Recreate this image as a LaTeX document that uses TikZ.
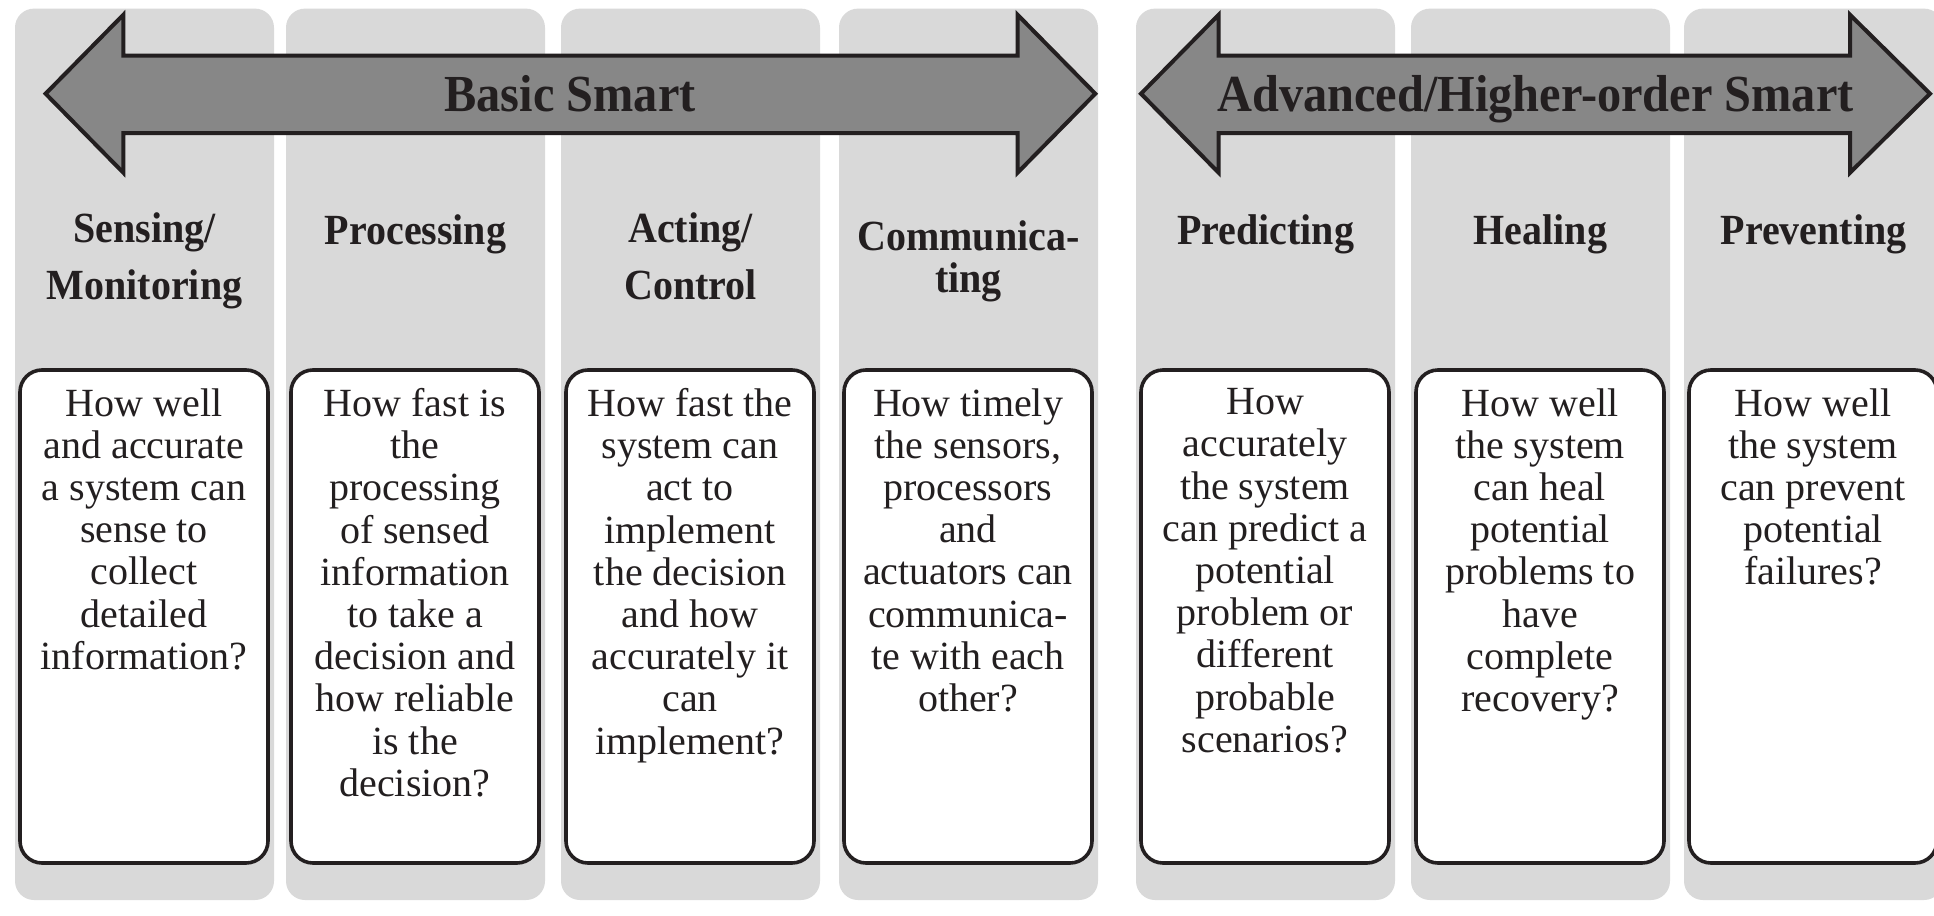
\documentclass[tikz,border=0pt]{standalone}
\usepackage{fontspec}
\setmainfont{Liberation Serif}
\newfontfamily\hdfont[FakeStretch=0.93]{Liberation Serif Bold}
\definecolor{colgray}{HTML}{D9D9D9}
\definecolor{arrgray}{HTML}{878787}
\definecolor{ink}{HTML}{231F20}
\begin{document}
\begin{tikzpicture}[x=0.5pt,y=-0.5pt,
  column/.style={fill=colgray, rounded corners=9.5pt},
  bigarrow/.style={draw=ink, fill=arrgray, line width=2pt, line join=miter},
  arrlabel/.style={text=ink, inner sep=0pt, anchor=base, font=\hdfont\fontsize{26}{30}\selectfont},
  header/.style={text=ink, inner sep=0pt, anchor=north, align=center, font=\hdfont\fontsize{21.5}{28.5}\selectfont, execute at begin node={\rule{0pt}{16pt}}},
  headertight/.style={header, font=\hdfont\fontsize{21.5}{21}\selectfont},
  qbox/.style={draw=ink, line width=1.8pt, fill=white, rounded corners=11pt, minimum width=124pt, minimum height=246.5pt, inner sep=0pt},
  qtext/.style={text=ink, inner sep=0pt, anchor=north, align=center, font=\fontsize{20}{21.1}\selectfont, execute at begin node={\rule{0pt}{15pt}}}
]
\useasboundingbox (0,0) rectangle (1934,916);
\clip (0,0) rectangle (1934,916);
\fill[white] (0,0) rectangle (1934,916);

% grey columns
\foreach \l in {15,286,561,839,1136,1411,1684}{
  \fill[column] (\l,8.6) rectangle ++(259,891.4);
}

% arrows
\draw[bigarrow] (45.6,93.7) -- (123.3,14.8) -- (123.3,55.5) -- (1017.6,55.5) -- (1017.6,14.8) -- (1095.3,93.7) -- (1017.6,172.7) -- (1017.6,133.2) -- (123.3,133.2) -- (123.3,172.7) -- cycle;
\draw[bigarrow] (1141,93.7) -- (1218.6,14.8) -- (1218.6,55.5) -- (1850,55.5) -- (1850,14.8) -- (1930,93.7) -- (1850,172.7) -- (1850,133.2) -- (1218.6,133.2) -- (1218.6,172.7) -- cycle;
\node[arrlabel] (basic) at (570,111) {Basic Smart};
\node[arrlabel] (adv) at (1535.5,111) {Advanced/Higher-order Smart};

% headers
\node[header] (h1) at (144.5,212) {Sensing/\\Monitoring};
\node[header] (h2) at (415.5,212) {Processing};
\node[header] (h3) at (690.5,212) {Acting/\\Control};
\node[headertight] (h4) at (968.5,220) {Communica-\\ting};
\node[header] (h5) at (1265.5,212) {Predicting};
\node[header] (h6) at (1540.5,212) {Healing};
\node[header] (h7) at (1813.5,212) {Preventing};

% boxes
\foreach \c/\n in {144/1,415/2,690/3,968/4,1265/5,1540/6,1813/7}{
  \node[qbox] (b\n) at (\c,616.5) {};
}

% box texts
\node[qtext] (t1) at (144,388) {How well\\and accurate\\a system can\\sense to\\collect\\detailed\\information?};
\node[qtext] (t2) at (415,388) {How fast is\\the\\processing\\of sensed\\information\\to take a\\decision and\\how reliable\\is the\\decision?};
\node[qtext] (t3) at (690,388) {How fast the\\system can\\act to\\implement\\the decision\\and how\\accurately it\\can\\implement?};
\node[qtext] (t4) at (968,388) {How timely\\the sensors,\\processors\\and\\actuators can\\communica-\\te with each\\other?};
\node[qtext] (t5) at (1265,388) {How\\accurately\\the system\\can predict a\\potential\\problem or\\different\\probable\\scenarios?};
\node[qtext] (t6) at (1540,388) {How well\\the system\\can heal\\potential\\problems to\\have\\complete\\recovery?};
\node[qtext] (t7) at (1813,388) {How well\\the system\\can prevent\\potential\\failures?};
\end{tikzpicture}
\end{document}
